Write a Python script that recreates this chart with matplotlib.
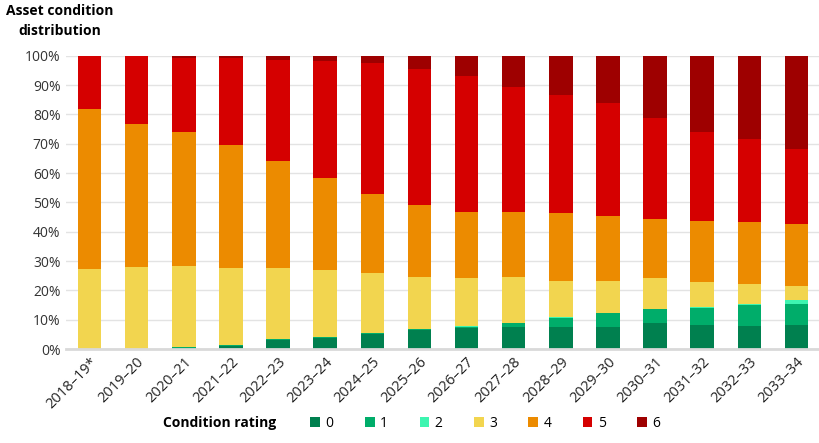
import numpy as np
import matplotlib
matplotlib.use("Agg")
import matplotlib.pyplot as plt
from matplotlib.patches import Patch

plt.rcParams['font.family'] = ['Open Sans', 'DejaVu Sans']

years = ["2018–19*", "2019–20", "2020–21", "2021–22", "2022–23", "2023–24",
         "2024–25", "2025–26", "2026–27", "2027–28", "2028–29", "2029–30",
         "2030–31", "2031–32", "2032–33", "2033–34"]

# share of assets (%) per condition rating
rating_0 = [0.0, 0.0, 0.3, 1.1, 3.1, 3.8, 5.3, 6.5, 7.3, 7.4, 7.7, 7.7, 8.8, 8.2, 7.9, 8.3]
rating_1 = [0.0, 0.0, 0.3, 0.4, 0.3, 0.2, 0.3, 0.2, 0.3, 1.4, 2.9, 4.5, 4.7, 5.8, 7.0, 7.2]
rating_2 = [0.0, 0.0, 0.0, 0.0, 0.0, 0.0, 0.0, 0.0, 0.2, 0.2, 0.2, 0.2, 0.2, 0.5, 0.4, 1.1]
rating_3 = [27.3, 28.1, 27.9, 26.3, 24.2, 22.9, 20.5, 18.0, 16.6, 15.6, 12.5, 10.9, 10.4, 8.4, 7.0, 4.8]
rating_4 = [54.4, 48.6, 45.5, 41.9, 36.7, 31.3, 26.7, 24.6, 22.2, 22.1, 23.0, 22.0, 20.2, 20.8, 21.2, 21.3]
rating_5 = [18.3, 23.3, 25.1, 29.4, 34.2, 40.0, 44.7, 46.1, 46.5, 42.8, 40.4, 38.5, 34.4, 30.2, 28.0, 25.5]
rating_6 = [0.0, 0.0, 0.9, 0.9, 1.5, 1.8, 2.5, 4.6, 6.9, 10.5, 13.3, 16.2, 21.3, 26.1, 28.5, 31.8]

ratings = ["0", "1", "2", "3", "4", "5", "6"]
series = [rating_0, rating_1, rating_2, rating_3, rating_4, rating_5, rating_6]
colours = ["#00804F", "#00AD6A", "#3DF5B0", "#F2D54F", "#EC8B00", "#D50000", "#9E0000"]

fig = plt.figure(figsize=(8.2, 4.43), dpi=100)
ax = fig.add_axes([0.0805, 0.212, 0.9195, 0.662])

x = np.arange(len(years))
bottom = np.zeros(len(years))
for vals, col in zip(series, colours):
    vals = np.array(vals)
    ax.bar(x, vals, bottom=bottom, width=0.5, color=col, zorder=3)
    bottom += vals

ax.set_xlim(-0.5, len(years) - 0.5)
ax.set_ylim(0, 100)
ax.set_yticks(np.arange(0, 101, 10))
ax.set_yticklabels([f"{v}%" for v in range(0, 101, 10)], fontsize=10, color="#333333")
ax.set_xticks(x)
ax.set_xticklabels(years, rotation=45, ha="right", rotation_mode="anchor",
                   fontsize=10.5, color="#222222")
ax.tick_params(axis="both", length=0, pad=4)
ax.grid(axis="y", color="#E3E3E3", linewidth=1, zorder=0)
for s in ["top", "right", "left"]:
    ax.spines[s].set_visible(False)
ax.spines["bottom"].set_color("#D9D9D9")
ax.spines["bottom"].set_linewidth(2)
ax.spines["bottom"].set_zorder(4)

fig.text(0.073, 0.99, "Asset condition\ndistribution", ha="center", va="top",
         fontsize=10, fontweight="bold", linespacing=1.5)

fig.text(0.199, 0.045, "Condition rating", ha="left", va="center",
         fontsize=10, fontweight="bold")
handles = [Patch(facecolor=c, label=r) for r, c in zip(ratings, colours)]
fig.legend(handles=handles, ncol=7, loc="center", bbox_to_anchor=(0.592, 0.045),
           frameon=False, fontsize=10, handlelength=0.7, handleheight=0.7,
           handletextpad=0.4, columnspacing=2.25)

fig.savefig("out.png", dpi=100)
